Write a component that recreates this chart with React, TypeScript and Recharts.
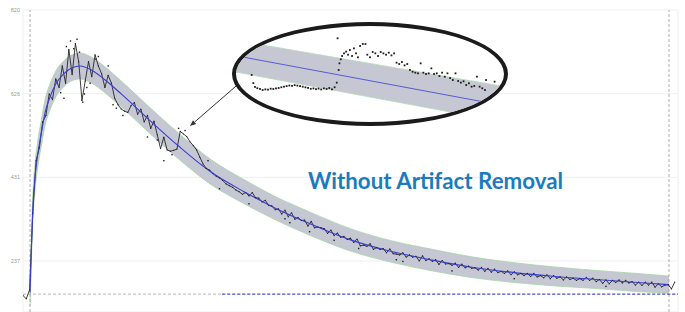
import React from 'react';
import {
  ComposedChart,
  Line,
  Area,
  Scatter,
  XAxis,
  YAxis,
  CartesianGrid,
  ReferenceLine,
} from 'recharts';

// axis ticks
const yTicks = [237, 431.33, 625.67, 820];
const xTicks = [0, 100, 200, 300, 400];
const dataStart = 4.3;
const dataEnd = 394.5;
const baseline = 160;
const artifactFrom = 121.5;

// fitted curve + confidence band
const fitTime = [4.3, 5, 6, 7.5, 9, 11, 13.5, 16.5, 20, 25, 30, 35, 42, 50, 60, 75, 95, 115, 135, 155, 175, 200, 225, 250, 275, 300, 325, 350, 375, 394.5];
const fitValue = [163, 250, 360, 438, 485, 530, 582, 618, 648, 672, 686, 690, 680, 658, 625, 572, 504, 443, 398, 358, 324, 286, 259, 239, 222, 210, 201, 194, 187, 182];
const bandHigh = [193, 280, 390, 468, 515, 560, 612, 648, 678, 702, 716, 720, 710, 688, 655, 602, 534, 472, 426, 385, 351, 312, 284, 264, 246, 233, 223, 215, 208, 202];
const bandLow = [133, 220, 330, 408, 455, 500, 552, 588, 618, 642, 656, 660, 650, 628, 595, 542, 474, 414, 370, 331, 297, 260, 234, 214, 198, 187, 179, 173, 166, 162];

// measured signal, one sample every 2 time units from 0
const STEP = 2;
const measured = [
  157, 149, 170, 348, 470, 500, 560, 575, 625, 612,
  660, 640, 690, 650, 728, 670, 742, 700, 610, 655,
  700, 665, 716, 690, 672, 640, 668, 650, 615, 600,
  590, 585, 582, 598, 605, 578, 590, 560, 575, 545,
  562, 530, 498, 525, 495, 492, 494, 497, 538, 532,
  526, 514, 505, 495, 478, 462, 452, 448, 440, 434,
  430, 424, 416, 412, 408, 402, 398, 392, 396, 388,
  396, 384, 383, 374, 378, 366, 365, 356, 358, 346,
  355, 340, 349, 334, 338, 331, 332, 318, 329, 314,
  316, 314, 312, 301, 309, 296, 302, 292, 294, 287,
  290, 280, 288, 272, 274, 271, 277, 264, 268, 264,
  266, 256, 265, 254, 253, 251, 256, 246, 251, 246,
  248, 237, 249, 238, 242, 236, 240, 229, 238, 230,
  231, 227, 232, 222, 230, 221, 225, 220, 221, 216,
  222, 213, 220, 211, 218, 210, 213, 208, 214, 205,
  212, 205, 208, 203, 208, 201, 208, 200, 203, 198,
  205, 196, 203, 197, 200, 193, 200, 194, 197, 192,
  196, 192, 199, 192, 197, 189, 194, 185, 193, 184,
  192, 187, 193, 186, 192, 186, 189, 181, 188, 180,
  188, 181, 188, 176, 184, 177, 181, 182, 172, 188,
];

// stray samples off the trace
const strayTime = [23, 25, 26.5, 29, 31, 33, 34.5, 36.5, 37.5, 39, 41, 44.5, 46, 52, 55, 57, 61, 76, 82, 86, 91, 95, 99, 113, 120, 138, 160, 163, 175, 190, 205, 228, 232, 262, 300, 356];
const strayValue = [628, 615, 735, 748, 730, 752, 722, 606, 625, 640, 650, 706, 712, 690, 600, 592, 575, 525, 518, 470, 484, 545, 540, 470, 405, 370, 335, 326, 305, 285, 266, 240, 236, 214, 196, 178];

// zoomed inset (artifact section)
const insetBandTime = [0, 100];
const insetBandLow = [52, 0];
const insetBandHigh = [85, 37];
const insetFit = [69, 17];
const insetDotTime = [
  5.85, 6.47, 7.09, 7.96, 8.96, 9.95, 10.95, 11.94, 12.94, 13.93, 14.93, 15.92, 16.92, 17.91, 18.9, 19.9, 20.9, 21.9, 22.9, 23.9,
  24.9, 25.9, 26.9, 27.9, 28.9, 29.85, 30.8, 31.8, 32.8, 33.8, 34.8, 35.8, 36.8, 37.6, 37.9, 38.3, 38.6, 39.1, 39.6, 40.3,
  41.1, 41.8, 42.5, 43.3, 44.0, 44.8, 45.5, 46.3, 47.3, 48.3, 49.0, 50, 51.0, 52.0, 53.0, 54.0, 55.0, 56.0, 57.0, 58.0,
  59.0, 59.9, 60.9, 61.9, 62.9, 63.9, 64.9, 65.9, 66.9, 67.9, 68.9, 69.9, 70.9, 71.9, 72.9, 73.9, 74.9, 75.9, 76.9, 77.9,
  78.9, 79.9, 80.9, 81.9, 82.9, 83.9, 84.9, 85.9, 86.9, 87.9, 88.9, 89.9, 90.9, 91.9, 92.9, 93.3, 93.5, 94.0, 94.8, 95.5,
  96.0, 96.5,
];
const insetDotValue = [
  49.0, 40.5, 36.5, 35.2, 34.4, 33.3, 34.0, 33.7, 34.7, 34.4, 35.0, 35.4, 36.2, 36.8, 37.4, 38.0, 37.6, 38.4, 37.9, 37.4,
  36.8, 36.1, 35.5, 34.6, 35.0, 34.2, 34.8, 33.9, 35.0, 34.4, 35.4, 34.0, 36.2, 41.0, 87.2, 54.2, 61.1, 65.3, 68.75, 71.5,
  73.3, 70.1, 75.0, 68.75, 76.7, 71.5, 67.4, 79.2, 81.25, 81.25, 70.1, 67.4, 72.9, 71.5, 68.75, 72.9, 71.5, 70.1, 72.2, 69.4,
  71.5, 61.8, 60.4, 62.5, 59.0, 60.4, 54.2, 52.4, 51.4, 50.7, 61.1, 51.4, 50, 50.7, 55.9, 50, 50.7, 47.9, 51.4, 47.2,
  50.7, 45.8, 43.75, 50.7, 42.7, 41.0, 42.4, 38.5, 40.3, 36.8, 37.5, 47.2, 36.8, 35.1, 33.3, 43.75, 19.4, 13.2, 16.7, 22.2,
  27.1, 42.0,
];

const fitRows = fitTime.map((t, i) => ({ t, fit: fitValue[i], band: [bandLow[i], bandHigh[i]] }));
const measuredRows = measured.map((v, i) => ({ t: i * STEP, v }));
const strayRows = strayTime.map((t, i) => ({ t, v: strayValue[i] }));
const baselineRows = [{ t: artifactFrom, v: baseline }, { t: 400, v: baseline }];

const insetBandRows = insetBandTime.map((t, i) => ({ t, band: [insetBandLow[i], insetBandHigh[i]], fit: insetFit[i] }));
const insetDotRows = insetDotTime.map((t, i) => ({ t, v: insetDotValue[i] }));

const Dot = (p: any) => (
  <rect x={p.cx - 0.7} y={p.cy - 0.7} width={1.4} height={1.4} fill='#1e1e1e' />
);

const InsetDot = (p: any) => (
  <rect x={p.cx - 0.9} y={p.cy - 0.9} width={1.8} height={1.8} fill='#1e1e1e' />
);

const Arrow = (p: any) => {
  const { x1, y1, x2, y2 } = p;
  const a = Math.atan2(y2 - y1, x2 - x1);
  const len = 6;
  const w = 2.4;
  const bx = x2 - len * Math.cos(a);
  const by = y2 - len * Math.sin(a);
  const pts = [
    `${x2},${y2}`,
    `${bx + w * Math.sin(a)},${by - w * Math.cos(a)}`,
    `${bx - w * Math.sin(a)},${by + w * Math.cos(a)}`,
  ].join(' ');
  return (
    <g>
      <line x1={x1} y1={y1} x2={bx} y2={by} stroke='#333' strokeWidth={1} />
      <polygon points={pts} fill='#333' />
    </g>
  );
};

export default function App() {
  return (
    <div style={{ position: 'absolute', left: 0, top: 0, width: 685, height: 312, background: '#fff' }}>
      <ComposedChart width={685} height={312} margin={{ top: 10, right: 7, bottom: 0, left: 0 }}>
        <CartesianGrid stroke='#efefef' strokeWidth={1} />
        <XAxis
          type='number'
          dataKey='t'
          domain={[0, 400]}
          ticks={xTicks}
          tick={false}
          tickLine={false}
          axisLine={false}
          height={0}
          allowDataOverflow
        />
        <YAxis
          type='number'
          domain={[118.5, 820]}
          ticks={yTicks}
          width={23}
          tickSize={0}
          tickMargin={3}
          axisLine={false}
          tickLine={false}
          tickFormatter={(v: number) => String(Math.round(v))}
          tick={{ fontSize: 5.5, fill: '#999', fontFamily: 'Liberation Sans' }}
          allowDataOverflow
        />
        <ReferenceLine x={dataStart} stroke='#9a9a9a' strokeDasharray='3 2' strokeWidth={0.8} />
        <ReferenceLine x={dataEnd} stroke='#9a9a9a' strokeDasharray='3 2' strokeWidth={0.8} />
        <ReferenceLine y={baseline} stroke='#aaaaaa' strokeDasharray='3 2' strokeWidth={0.8} />
        <Area
          data={fitRows}
          dataKey='band'
          type='monotone'
          stroke='#a6d6a6'
          strokeWidth={0.8}
          fill='#c5c7d3'
          fillOpacity={1}
          isAnimationActive={false}
        />
        <Line
          data={baselineRows}
          dataKey='v'
          stroke='#3b3fcf'
          strokeWidth={1}
          strokeDasharray='3 2'
          dot={false}
          isAnimationActive={false}
        />
        <Line
          data={measuredRows}
          dataKey='v'
          type='linear'
          stroke='#262626'
          strokeWidth={0.9}
          dot={{ r: 0.6, fill: '#1e1e1e', stroke: 'none' }}
          isAnimationActive={false}
        />
        <Scatter data={strayRows} dataKey='v' shape={Dot} isAnimationActive={false} />
        <Line
          data={fitRows}
          dataKey='fit'
          type='monotone'
          stroke='#3b3fcf'
          strokeWidth={1.1}
          dot={false}
          isAnimationActive={false}
        />
        <ReferenceLine
          segment={[{ x: 135.6, y: 661.4 }, { x: 102, y: 550.5 }]}
          shape={Arrow}
        />
      </ComposedChart>

      <div
        style={{
          position: 'absolute',
          left: 232,
          top: 22,
          width: 276,
          height: 104,
          boxSizing: 'border-box',
          border: '4px solid #1b1b1b',
          borderRadius: '50%',
          overflow: 'hidden',
          background: '#fff',
        }}>
        <ComposedChart width={268} height={96} margin={{ top: 0, right: 0, bottom: 0, left: 0 }}>
          <XAxis type='number' dataKey='t' domain={[0, 100]} hide allowDataOverflow />
          <YAxis type='number' domain={[0, 100]} hide allowDataOverflow />
          <Area
            data={insetBandRows}
            dataKey='band'
            type='linear'
            stroke='#b5dcb5'
            strokeWidth={0.8}
            fill='#c5c7d3'
            fillOpacity={1}
            isAnimationActive={false}
          />
          <Line
            data={insetBandRows}
            dataKey='fit'
            type='linear'
            stroke='#4a4ed6'
            strokeWidth={0.9}
            dot={false}
            isAnimationActive={false}
          />
          <Scatter data={insetDotRows} dataKey='v' shape={InsetDot} isAnimationActive={false} />
        </ComposedChart>
      </div>

      <div
        style={{
          position: 'absolute',
          left: 308,
          top: 168,
          fontFamily: 'Lato',
          fontWeight: 700,
          fontSize: 22.3,
          lineHeight: 1.2,
          color: '#1b7bbf',
          whiteSpace: 'nowrap',
        }}>
        Without Artifact Removal
      </div>
    </div>
  );
}
